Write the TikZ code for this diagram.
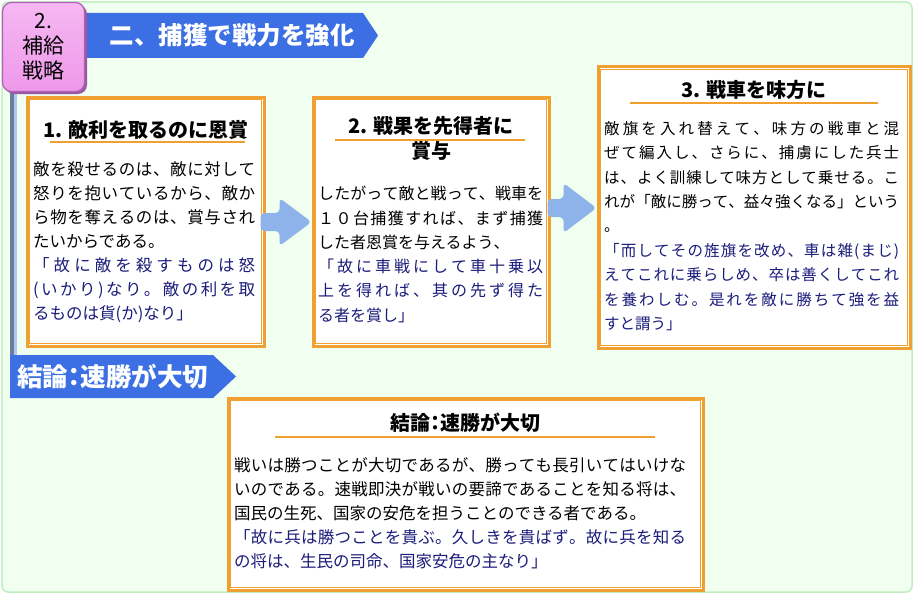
\documentclass[tikz,border=0pt]{standalone}
\usepackage{fontspec}
\setmainfont{Noto Sans CJK JP}
\usetikzlibrary{calc}
\definecolor{bgfill}{HTML}{F0FFF0}
\definecolor{bgline}{HTML}{C0EEC0}
\definecolor{bannerblue}{HTML}{3B6FE3}
\definecolor{pinkfill}{HTML}{EE98EA}
\definecolor{pinktop}{HTML}{F6B8F2}
\definecolor{pinkline}{HTML}{B060B8}
\definecolor{pinkshadow}{HTML}{9A5AA0}
\definecolor{orangeline}{HTML}{F0A030}
\definecolor{arrowblue}{HTML}{8DB3EA}
\definecolor{navy}{HTML}{1C1C7C}
\definecolor{bardark}{HTML}{6C7C9C}
\definecolor{barlight}{HTML}{B0C8F0}
\tikzset{
  frame/.style={draw=orangeline, line width=3pt, fill=white, inner sep=0pt},
  innerframe/.style={draw=orangeline, line width=1.3pt},
  uline/.style={draw=orangeline, line width=2pt},
  titletext/.style={inner sep=0pt, font=\bfseries\fontsize{20}{25}\selectfont, align=center},
  bodytext/.style={inner sep=0pt, anchor=north west, align=left},
  bannertext/.style={inner sep=0pt, text=white, font=\bfseries\fontsize{24.5}{28}\selectfont},
  fatarrow/.style={fill=arrowblue, draw=none, rounded corners=4pt}
}
\makeatletter
\newcommand\jl[2]{\hbox to #1{\@tfor\jc:=#2\do{\jc\hskip 0pt plus 1fil}\unskip}}
\makeatother
\newcommand\nv[1]{\textcolor{navy}{#1}}
\newcommand\ncolon{{\addfontfeature{RawFeature=+palt}：}}
\begin{document}
\begin{tikzpicture}[x=1pt,y=-1pt]
\useasboundingbox (0,0) rectangle (915,594);
% background
\draw[fill=bgfill, draw=bgline, line width=1.5pt, rounded corners=6pt] (2,2) rectangle (912,592);
% top banner
\fill[bannerblue] (85,13) -- (363,13) -- (378,35.5) -- (363,58) -- (85,58) -- cycle;
\node[bannertext] (bannerA) at (232,35) {二、捕獲で戦力を強化};
% vertical bar
\fill[bardark] (10,86) rectangle (13.5,356);
\fill[barlight] (13.5,86) rectangle (16.5,356);
% pink box
\fill[pinkshadow, rounded corners=9pt] (5,5) rectangle (87,94);
\node[draw=pinkline, line width=1.2pt, top color=pinktop, bottom color=pinkfill,
  rounded corners=9pt, minimum width=82pt, minimum height=89pt, inner sep=0pt,
  align=center, font=\fontsize{21}{25}\selectfont] (tag) at (43.5,47) {2.\\補給\\戦略};
% boxes
\node[frame, minimum width=237pt, minimum height=249pt] (b1) at (145.5,221.5) {};
\node[frame, minimum width=236pt, minimum height=249pt] (b2) at (431,221.5) {};
\node[frame, minimum width=312pt, minimum height=281pt] (b3) at (754,207.5) {};
\node[frame, minimum width=475pt, minimum height=192pt] (b4) at (465.5,494) {};
\foreach \b in {b1,b2,b3,b4}{
  \draw[innerframe] ($(\b.north west)+(4,4)$) rectangle ($(\b.south east)+(-4,-4)$);
}
% titles
\node[titletext] (h1) at (146,130) {1. 敵利を取るのに恩賞};
\draw[uline] (50,142) -- (245,142);
\node[titletext, anchor=north] (h2) at (431,116) {2. 戦果を先得者に\\賞与};
\draw[uline] (335,140) -- (525,140);
\node[titletext] (h3) at (754,90) {3. 戦車を味方に};
\draw[uline] (630,103) -- (878,103);
\node[titletext] (h4) at (465.5,423) {結論\ncolon 速勝が大切};
\draw[uline] (275,437) -- (655,437);
% body texts
\node[bodytext, font=\fontsize{16.5}{24.1}\selectfont] (t1) at (33,161) {\jl{222pt}{敵を殺せるのは、敵に対して}\\\jl{222pt}{怒りを抱いているから、敵か}\\\jl{222pt}{ら物を奪えるのは、賞与され}\\たいからである。\\\nv{\jl{222pt}{「故に敵を殺すものは怒}}\\\nv{\jl{222pt}{(いかり)なり。敵の利を取}}\\\nv{るものは貨(か)なり」}};
\node[bodytext, font=\fontsize{16}{24.3}\selectfont] (t2) at (318,186) {\jl{225pt}{したがって敵と戦って、戦車を}\\\jl{225pt}{１０台捕獲すれば、まず捕獲}\\した者恩賞を与えるよう、\\\nv{\jl{225pt}{「故に車戦にして車十乗以}}\\\nv{\jl{225pt}{上を得れば、其の先ず得た}}\\\nv{る者を賞し」}};
\node[bodytext, font=\fontsize{15.5}{24.4}\selectfont] (t3) at (604,121) {\jl{295pt}{敵旗を入れ替えて、味方の戦車と混}\\\jl{295pt}{ぜて編入し、さらに、捕虜にした兵士}\\\jl{295pt}{は、よく訓練して味方として乗せる。こ}\\\jl{295pt}{れが「敵に勝って、益々強くなる」という}\\。\\\nv{\jl{295pt}{「而してその旌旗を改め、車は雑(まじ)}}\\\nv{\jl{295pt}{えてこれに乗らしめ、卒は善くしてこれ}}\\\nv{\jl{295pt}{を養わしむ。是れを敵に勝ちて強を益}}\\\nv{すと謂う」}};
\node[bodytext, font=\fontsize{16.5}{24}\selectfont] (t4) at (234,457) {\jl{452pt}{戦いは勝つことが大切であるが、勝っても長引いてはいけな}\\\jl{452pt}{いのである。速戦即決が戦いの要諦であることを知る将は、}\\国民の生死、国家の安危を担うことのできる者である。\\\nv{\jl{452pt}{「故に兵は勝つことを貴ぶ。久しきを貴ばず。故に兵を知る}}\\\nv{の将は、生民の司命、国家安危の主なり」}};
% arrows between boxes
\fill[fatarrow, shift={(b2.west)}] (-51,-9+0.5) -- (-32,-9+0.5) -- (-32,-24+0.5) -- (0,0.5) -- (-32,24+0.5) -- (-32,9+0.5) -- (-51,9+0.5) -- cycle;
\fill[fatarrow, shift={(b3.west)}] (-49,-9+0.5) -- (-33,-9+0.5) -- (-33,-25+0.5) -- (0,0.5) -- (-33,25+0.5) -- (-33,9+0.5) -- (-49,9+0.5) -- cycle;
% bottom banner
\fill[bannerblue] (10,355) -- (213,355) -- (236,376.5) -- (213,398) -- (10,398) -- cycle;
\node[bannertext, anchor=west, font=\bfseries\fontsize{25.5}{28}\selectfont] (bannerB) at (17,376.5) {結論\ncolon 速勝が大切};
\end{tikzpicture}
\end{document}
